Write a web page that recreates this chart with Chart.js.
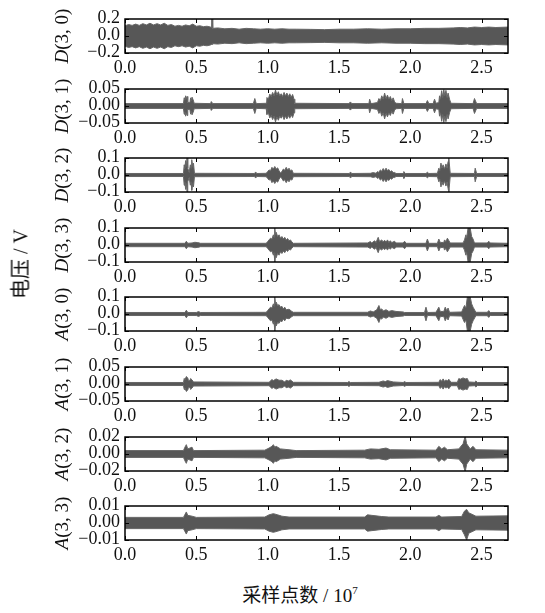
<!DOCTYPE html>
<html>
<head>
<meta charset="utf-8">
<script src="https://cdn.jsdelivr.net/npm/chart.js@4/dist/chart.umd.min.js"></script>
<style>
  body { margin: 0; background: #fff; }
  #wrap { position: relative; width: 545px; height: 613px; overflow: hidden; font-family: "Liberation Serif", "Noto Sans CJK SC", serif; color: #111; }
  canvas { position: absolute; left: 0; }
  .ttl { position: absolute; white-space: nowrap; font-size: 19px; transform: translate(-50%, -50%) rotate(-90deg); }
  .big { position: absolute; white-space: nowrap; font-size: 19px; }
  .tk { position: absolute; white-space: nowrap; font-size: 18px; line-height: 18px; }
</style>
</head>
<body>
<div id="wrap"></div>
<script>
// envelope of each signal: [x (1e7 samples), +amplitude, optional -amplitude]
const d30 = [[0,0.12],[0.025,0.135],[0.05,0.125],[0.075,0.14],[0.1,0.125],[0.125,0.145],[0.15,0.13],[0.175,0.15],[0.2,0.13],[0.225,0.145],[0.25,0.13],[0.275,0.15],[0.3,0.125],[0.325,0.135],[0.35,0.115],[0.375,0.125],[0.4,0.115],[0.425,0.13],[0.45,0.12],[0.475,0.14],[0.5,0.115],[0.525,0.12],[0.55,0.11],[0.575,0.115],[0.6,0.105],[0.605,0.1],[0.608,0.21,-0.1],[0.612,0.21,-0.1],[0.615,0.09],[0.65,0.095],[0.7,0.085],[0.75,0.09],[0.8,0.08],[0.85,0.09],[0.9,0.085],[0.95,0.08],[1.0,0.085],[1.05,0.08],[1.1,0.085],[1.15,0.08],[1.2,0.08],[1.3,0.078],[1.4,0.075],[1.5,0.08],[1.6,0.08],[1.7,0.085],[1.8,0.08],[1.9,0.085],[2.0,0.085],[2.1,0.09],[2.2,0.09],[2.3,0.095],[2.35,0.1],[2.4,0.095],[2.45,0.105],[2.5,0.1],[2.55,0.105],[2.6,0.1],[2.685,0.105]];
const d31 = [[0,0.007],[0.4,0.007],[0.41,0.008],[0.415,0.024],[0.42,0.018],[0.425,0.03],[0.43,0.02],[0.435,0.028],[0.44,0.01],[0.455,0.01],[0.46,0.024],[0.465,0.016],[0.47,0.026],[0.478,0.018],[0.485,0.008],[0.6,0.007],[0.605,0.013],[0.615,0.007],[0.9,0.007],[0.91,0.022],[0.92,0.007],[0.99,0.008],[0.995,0.025],[1.005,0.02],[1.015,0.035],[1.025,0.028],[1.035,0.04],[1.045,0.03],[1.055,0.047],[1.065,0.032],[1.075,0.042],[1.085,0.03],[1.095,0.036],[1.105,0.028],[1.115,0.04],[1.125,0.03],[1.135,0.038],[1.145,0.028],[1.155,0.036],[1.165,0.026],[1.175,0.034],[1.185,0.02],[1.19,0.008],[1.57,0.007],[1.58,0.012],[1.59,0.007],[1.71,0.007],[1.715,0.02],[1.725,0.007],[1.77,0.01],[1.78,0.022],[1.79,0.015],[1.8,0.03],[1.81,0.02],[1.82,0.038],[1.83,0.022],[1.84,0.032],[1.85,0.02],[1.86,0.028],[1.87,0.016],[1.88,0.024],[1.89,0.012],[1.9,0.008],[1.94,0.007],[1.945,0.022],[1.955,0.007],[2.11,0.007],[2.12,0.016],[2.13,0.007],[2.16,0.007],[2.17,0.02],[2.18,0.008],[2.2,0.01],[2.205,0.03],[2.212,0.02],[2.22,0.045],[2.228,0.025],[2.235,0.048],[2.242,0.03],[2.25,0.046],[2.258,0.025],[2.265,0.038],[2.275,0.02],[2.285,0.008],[2.44,0.007],[2.45,0.022],[2.465,0.007],[2.685,0.007]];
const d32 = [[0,0.009],[0.41,0.009],[0.415,0.06],[0.42,0.04],[0.425,0.085],[0.43,0.05],[0.435,0.1],[0.44,0.04],[0.45,0.015],[0.458,0.06],[0.463,0.04],[0.468,0.09],[0.475,0.05],[0.48,0.07],[0.487,0.01],[0.91,0.009],[0.915,0.018],[0.925,0.009],[0.99,0.01],[1.0,0.02],[1.01,0.03],[1.02,0.025],[1.03,0.045],[1.04,0.035],[1.05,0.05],[1.06,0.035],[1.07,0.042],[1.08,0.025],[1.09,0.012],[1.1,0.02],[1.11,0.035],[1.12,0.028],[1.13,0.045],[1.14,0.03],[1.15,0.04],[1.16,0.025],[1.17,0.03],[1.18,0.01],[1.575,0.009],[1.58,0.018],[1.59,0.009],[1.72,0.01],[1.74,0.014],[1.76,0.01],[1.77,0.02],[1.78,0.015],[1.79,0.03],[1.8,0.022],[1.81,0.038],[1.82,0.025],[1.83,0.04],[1.84,0.026],[1.85,0.032],[1.86,0.02],[1.87,0.025],[1.88,0.014],[1.89,0.015],[1.9,0.009],[1.95,0.009],[1.955,0.02],[1.965,0.009],[2.11,0.009],[2.12,0.016],[2.13,0.009],[2.19,0.01],[2.2,0.04],[2.207,0.025],[2.215,0.07],[2.222,0.04],[2.23,0.06],[2.24,0.035],[2.25,0.065],[2.258,0.04],[2.265,0.08],[2.27,0.1],[2.28,0.01],[2.45,0.009],[2.455,0.04],[2.465,0.009],[2.685,0.009]];
const d33 = [[0,0.01],[0.42,0.01],[0.43,0.022],[0.44,0.01],[0.47,0.012],[0.49,0.016],[0.51,0.014],[0.53,0.01],[0.99,0.01],[1.0,0.02],[1.01,0.03],[1.02,0.04],[1.03,0.035],[1.04,0.06],[1.045,0.045],[1.05,0.1],[1.055,0.06],[1.06,0.075],[1.07,0.05],[1.08,0.06],[1.09,0.04],[1.1,0.05],[1.11,0.035],[1.12,0.045],[1.13,0.03],[1.14,0.038],[1.15,0.025],[1.16,0.03],[1.17,0.018],[1.18,0.01],[1.7,0.012],[1.72,0.02],[1.73,0.012],[1.75,0.025],[1.76,0.015],[1.775,0.045],[1.785,0.02],[1.8,0.03],[1.81,0.018],[1.82,0.028],[1.83,0.016],[1.84,0.03],[1.85,0.015],[1.86,0.025],[1.87,0.014],[1.89,0.022],[1.9,0.012],[1.95,0.012],[1.96,0.022],[1.97,0.01],[2.11,0.01],[2.12,0.035],[2.13,0.01],[2.19,0.01],[2.2,0.035],[2.21,0.015],[2.235,0.015],[2.24,0.03],[2.25,0.02],[2.26,0.04],[2.28,0.012],[2.37,0.012],[2.38,0.03],[2.39,0.06],[2.395,0.04],[2.405,0.1],[2.42,0.1],[2.43,0.05],[2.44,0.035],[2.45,0.012],[2.54,0.012],[2.55,0.022],[2.56,0.012],[2.685,0.01]];
const a30 = [[0,0.009],[0.42,0.009],[0.43,0.022],[0.44,0.009],[0.5,0.009],[0.515,0.014],[0.53,0.009],[0.99,0.01],[1.0,0.02],[1.01,0.03],[1.02,0.04],[1.03,0.035],[1.04,0.06],[1.045,0.045],[1.05,0.1],[1.055,0.06],[1.06,0.07],[1.07,0.05],[1.08,0.055],[1.09,0.04],[1.1,0.045],[1.11,0.03],[1.12,0.04],[1.13,0.025],[1.15,0.028],[1.17,0.015],[1.18,0.01],[1.7,0.01],[1.72,0.018],[1.74,0.012],[1.765,0.025],[1.78,0.05],[1.79,0.025],[1.8,0.03],[1.81,0.018],[1.83,0.025],[1.85,0.015],[1.87,0.02],[1.9,0.015],[1.95,0.012],[1.96,0.009],[2.1,0.009],[2.11,0.04],[2.12,0.009],[2.18,0.01],[2.2,0.04],[2.21,0.015],[2.235,0.015],[2.245,0.04],[2.255,0.02],[2.265,0.035],[2.275,0.01],[2.36,0.012],[2.38,0.05],[2.39,0.035],[2.4,0.1],[2.42,0.1],[2.43,0.06],[2.44,0.04],[2.46,0.01],[2.54,0.01],[2.55,0.02],[2.56,0.009],[2.685,0.009]];
const a31 = [[0,0.0045],[0.41,0.0045],[0.415,0.016],[0.42,0.012],[0.43,0.022],[0.44,0.018],[0.445,0.01],[0.455,0.01],[0.46,0.016],[0.47,0.012],[0.48,0.006],[1.01,0.005],[1.03,0.013],[1.04,0.01],[1.06,0.015],[1.08,0.011],[1.1,0.011],[1.12,0.006],[1.13,0.011],[1.145,0.009],[1.16,0.012],[1.18,0.005],[1.56,0.0045],[1.57,0.007],[1.58,0.0045],[1.78,0.005],[1.81,0.009],[1.825,0.007],[1.84,0.01],[1.88,0.006],[1.95,0.0045],[1.96,0.007],[1.97,0.0045],[2.2,0.005],[2.21,0.013],[2.22,0.008],[2.23,0.015],[2.24,0.008],[2.25,0.012],[2.26,0.009],[2.27,0.014],[2.285,0.005],[2.33,0.005],[2.34,0.016],[2.35,0.014],[2.37,0.018],[2.385,0.015],[2.4,0.016],[2.41,0.006],[2.45,0.005],[2.46,0.009],[2.47,0.0045],[2.685,0.0045]];
const a32 = [[0,0.004],[0.41,0.004],[0.42,0.008],[0.43,0.011],[0.44,0.006],[0.47,0.008],[0.48,0.004],[0.98,0.0045],[1.01,0.007],[1.03,0.009],[1.04,0.011],[1.05,0.008],[1.06,0.009],[1.09,0.006],[1.15,0.005],[1.2,0.004],[1.68,0.0045],[1.72,0.006],[1.78,0.0055],[1.83,0.007],[1.86,0.005],[2.18,0.0045],[2.2,0.009],[2.22,0.006],[2.24,0.008],[2.26,0.005],[2.34,0.006],[2.37,0.012],[2.385,0.021,-0.021],[2.395,0.012],[2.42,0.006],[2.44,0.009],[2.46,0.005],[2.685,0.0045]];
const a33 = [[0,0.0033],[0.41,0.0033],[0.42,0.005],[0.43,0.0065],[0.44,0.0045],[0.47,0.004],[0.5,0.0033],[0.98,0.0035],[1.01,0.0048],[1.04,0.0055],[1.07,0.0048],[1.1,0.004],[1.15,0.0035],[1.68,0.0035],[1.7,0.0048],[1.73,0.0045],[1.8,0.0038],[1.85,0.0035],[2.18,0.0035],[2.2,0.0045],[2.22,0.0035],[2.36,0.0038],[2.38,0.007],[2.395,0.008,-0.01],[2.41,0.006],[2.44,0.0048],[2.46,0.004],[2.685,0.0042]];

const signals = [d30, d31, d32, d33, a30, a31, a32, a33];
const letters = ['D', 'D', 'D', 'D', 'A', 'A', 'A', 'A'];
const indices = ['(3, 0)', '(3, 1)', '(3, 2)', '(3, 3)', '(3, 0)', '(3, 1)', '(3, 2)', '(3, 3)'];
const yLimits = [0.2, 0.05, 0.1, 0.1, 0.1, 0.05, 0.02, 0.01];
const yDecimals = [1, 2, 1, 1, 1, 2, 2, 2];
const xTicks = [0, 0.5, 1.0, 1.5, 2.0, 2.5];
const xMax = 2.685;

const wrap = document.getElementById('wrap');
const gray = '#575757';
const padTop = 10, boxH = 34, axisH = 24;

function addDiv(cls, html, css) {
  const d = document.createElement('div');
  d.className = cls;
  d.innerHTML = html;
  Object.assign(d.style, css);
  wrap.appendChild(d);
  return d;
}

// frame, inward ticks, and serif tick labels placed from the chart's scales
const framePlugin = {
  id: 'frame',
  afterDraw(chart, args, opts) {
    const ctx = chart.ctx, a = chart.chartArea;
    const sx = chart.scales.x, sy = chart.scales.y;
    ctx.save();
    ctx.strokeStyle = '#000';
    ctx.lineWidth = 1;
    sx.ticks.forEach(t => {
      const px = Math.round(sx.getPixelForValue(t.value)) + 0.5;
      ctx.beginPath();
      ctx.moveTo(px, a.bottom); ctx.lineTo(px, a.bottom - 4);
      ctx.moveTo(px, a.top); ctx.lineTo(px, a.top + 4);
      ctx.stroke();
    });
    sy.ticks.forEach(t => {
      const py = Math.round(sy.getPixelForValue(t.value)) + 0.5;
      ctx.beginPath();
      ctx.moveTo(a.left, py); ctx.lineTo(a.left + 4, py);
      ctx.moveTo(a.right, py); ctx.lineTo(a.right - 4, py);
      ctx.stroke();
    });
    ctx.lineWidth = 1.5;
    ctx.strokeRect(a.left, a.top, a.right - a.left, a.bottom - a.top);
    ctx.restore();

    if (chart.$labelled) return;
    chart.$labelled = true;
    const top0 = parseFloat(chart.canvas.style.top);
    sx.ticks.forEach(t => {
      addDiv('tk', t.value.toFixed(1), {
        left: sx.getPixelForValue(t.value) + 'px',
        top: (top0 + a.bottom + 5) + 'px',
        transform: 'translateX(-50%)'
      });
    });
    sy.ticks.forEach(t => {
      addDiv('tk', t.value.toFixed(opts.dec).replace('-', '\u2212'), {
        right: (545 - a.left + 5) + 'px',
        top: (top0 + sy.getPixelForValue(t.value)) + 'px',
        transform: 'translateY(-60%)'
      });
    });
  }
};

signals.forEach((sig, i) => {
  const boxTop = Math.round(19 + i * 69.6);
  const cv = document.createElement('canvas');
  cv.width = 545;
  cv.height = padTop + boxH + axisH;
  cv.style.top = (boxTop - padTop) + 'px';
  wrap.appendChild(cv);

  const lim = yLimits[i];
  new Chart(cv, {
    type: 'line',
    data: {
      datasets: [
        { data: sig.map(p => ({ x: p[0], y: p[1] })), fill: false },
        { data: sig.map(p => ({ x: p[0], y: p.length > 2 ? p[2] : -p[1] })), fill: '-1' }
      ]
    },
    options: {
      responsive: false,
      animation: false,
      events: [],
      layout: { padding: { top: padTop, right: 37, left: 0, bottom: 0 } },
      elements: {
        point: { radius: 0 },
        line: { tension: 0, borderWidth: 1, borderColor: '#666', backgroundColor: gray }
      },
      plugins: { legend: { display: false }, tooltip: { enabled: false }, frame: { dec: yDecimals[i] } },
      scales: {
        x: {
          type: 'linear', min: 0, max: xMax,
          afterBuildTicks: s => { s.ticks = xTicks.map(v => ({ value: v })); },
          afterFit: s => { s.height = axisH; },
          grid: { display: false },
          border: { display: false },
          ticks: { display: false }
        },
        y: {
          min: -lim, max: lim,
          afterBuildTicks: s => { s.ticks = [-lim, 0, lim].map(v => ({ value: v })); },
          afterFit: s => { s.width = 125; },
          grid: { display: false },
          border: { display: false },
          ticks: { display: false }
        }
      }
    },
    plugins: [framePlugin]
  });

  addDiv('ttl', '<i>' + letters[i] + '</i>' + indices[i], { left: '62px', top: (boxTop + boxH / 2) + 'px' });
});

addDiv('ttl', '电压 / V', { fontSize: '20px', left: '19px', top: '264px' });
addDiv('big', '采样点数 / 10<sup style="font-size:11px">7</sup>', { left: '300px', top: '593px', transform: 'translate(-50%, -50%)' });
</script>
</body>
</html>
